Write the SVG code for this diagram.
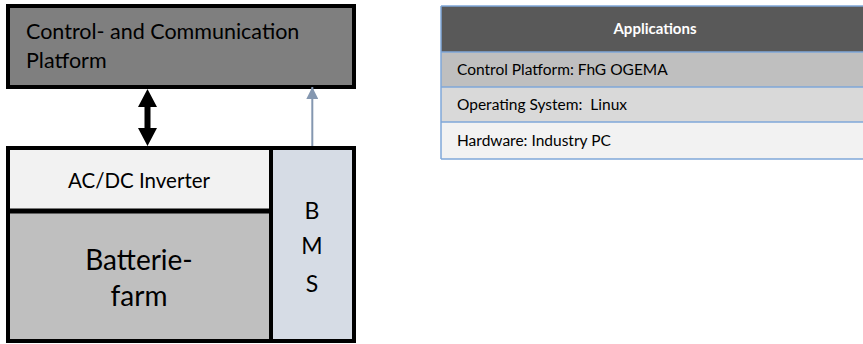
<svg xmlns="http://www.w3.org/2000/svg" width="863" height="344" viewBox="0 0 863 344">
<style>
text{font-family:Lato,"Open Sans","Liberation Sans",sans-serif;fill:#000}
.box{stroke:#000;stroke-width:4}
.row{stroke:#7fa7d9;stroke-width:1.5}
.t{font-size:15.5px;white-space:pre}
</style>
<defs>
<marker id="gh" viewBox="0 0 10 10" refX="10" refY="5" markerWidth="6" markerHeight="6" orient="auto"><path d="M0,0 L10,5 L0,10 Z" fill="#8497b0"/></marker>
</defs>
<rect width="863" height="344" fill="#fff"/>
<g id="platform">
<rect class="box" x="8" y="6" width="346" height="81" fill="#7f7f7f"/>
<text x="26" y="39" font-size="21.5">Control- and Communication</text>
<text x="26" y="68" font-size="21.5">Platform</text>
</g>
<g id="storage">
<rect class="box" x="8" y="148" width="346" height="193" fill="#bfbfbf"/>
</g>
<g id="inverter">
<rect x="10" y="150" width="259" height="59" fill="#f2f2f2"/>
<line x1="8" y1="211" x2="271" y2="211" stroke="#000" stroke-width="5"/>
<text x="139" y="188" font-size="20.5" text-anchor="middle">AC/DC Inverter</text>
</g>
<g id="battery">
<text x="139" y="270" font-size="28" text-anchor="middle">Batterie-</text>
<text x="139" y="306" font-size="28" text-anchor="middle">farm</text>
</g>
<g id="bms">
<rect x="273" y="150" width="79" height="189" fill="#d6dce5"/>
<line x1="271" y1="146" x2="271" y2="341" stroke="#000" stroke-width="4"/>
<text x="312" y="219" font-size="23" text-anchor="middle">B</text>
<text x="312" y="254" font-size="23" text-anchor="middle">M</text>
<text x="312" y="292" font-size="23" text-anchor="middle">S</text>
</g>
<g id="connectors">
<polygon points="147.5,89 157,107 150.5,107 150.5,128 157,128 147.5,146 138,128 144.5,128 144.5,107 138,107" fill="#000"/>
<line x1="312.3" y1="146" x2="312.3" y2="87" stroke="#8497b0" stroke-width="2" marker-end="url(#gh)"/>
</g>
<g id="applications">
<rect x="441" y="6" width="430" height="46" fill="#595959"/>
<rect x="441" y="52" width="430" height="35" fill="#bfbfbf"/>
<rect x="441" y="87" width="430" height="35" fill="#d9d9d9"/>
<rect x="441" y="122" width="430" height="37" fill="#f2f2f2"/>
<line class="row" x1="441" y1="6" x2="863" y2="6"/>
<line class="row" x1="441" y1="52" x2="863" y2="52"/>
<line class="row" x1="441" y1="87" x2="863" y2="87"/>
<line class="row" x1="441" y1="122" x2="863" y2="122"/>
<line class="row" x1="441" y1="159" x2="863" y2="159"/>
<line class="row" x1="441" y1="6" x2="441" y2="159"/>
<text x="655" y="34" font-size="15" font-weight="bold" text-anchor="middle" style="fill:#fff">Applications</text>
<text class="t" x="457" y="75">Control Platform: FhG OGEMA</text>
<text class="t" x="457" y="110" xml:space="preserve">Operating System:  Linux</text>
<text class="t" x="457" y="146">Hardware: Industry PC</text>
</g>
</svg>
